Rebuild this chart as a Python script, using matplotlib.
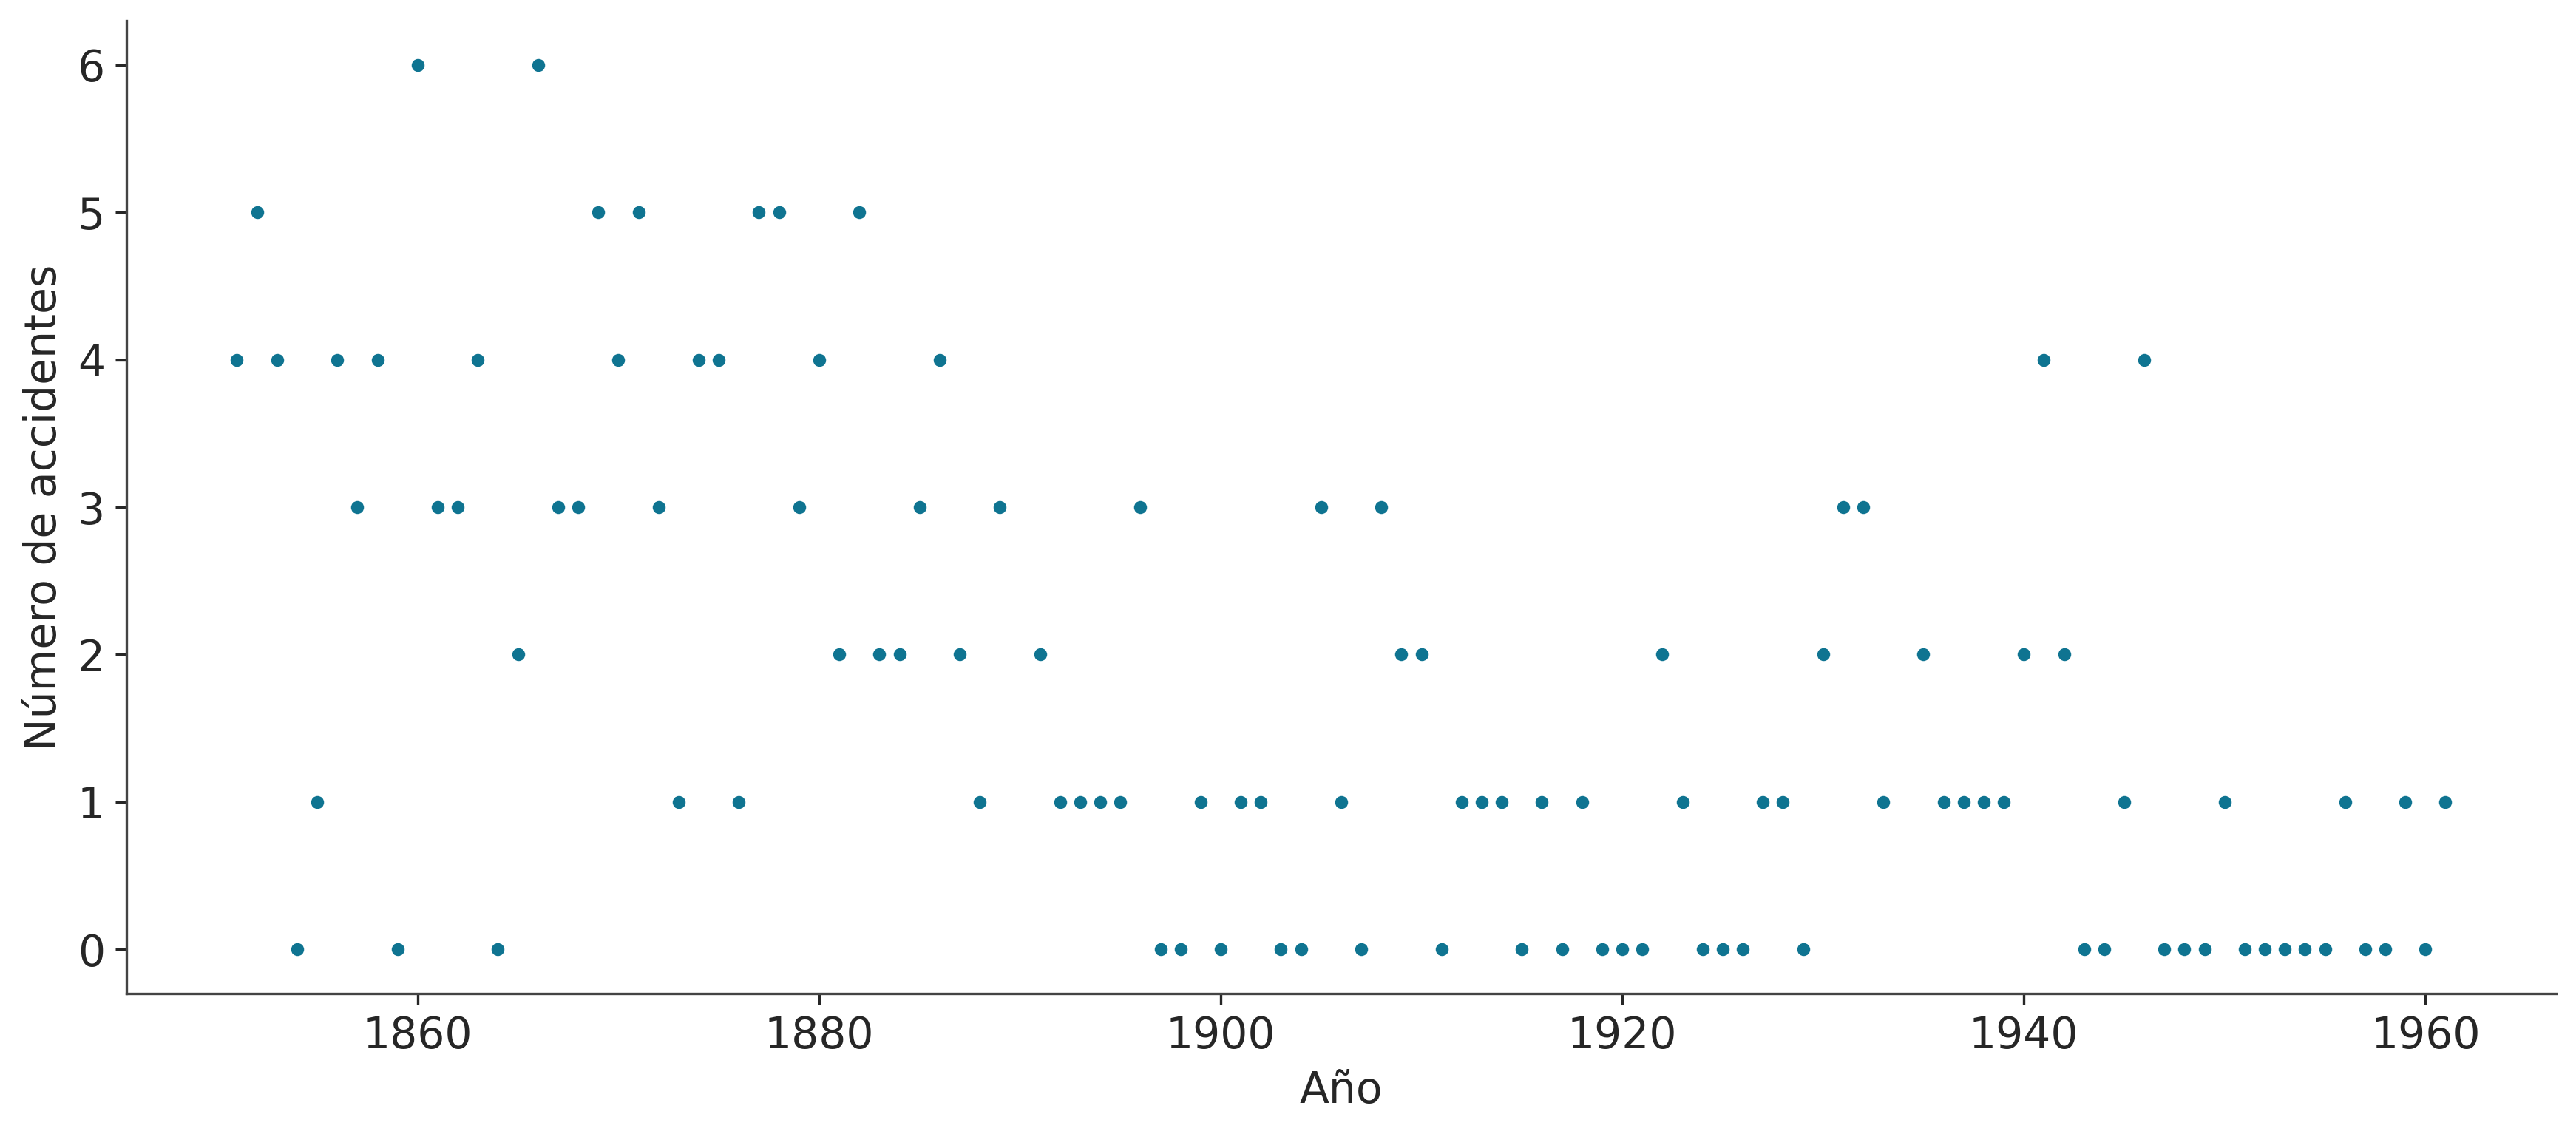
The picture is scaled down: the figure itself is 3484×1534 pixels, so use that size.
import matplotlib
matplotlib.use("Agg")
import matplotlib.pyplot as plt
import numpy as np
import seaborn as sns

sns.set_style("ticks")
plt.rcParams['font.family'] = ['DejaVu Sans']

# coal mining disasters per year (nan = missing year)
years = np.arange(1851, 1962)
counts = np.array([
    4, 5, 4, 0, 1, 4, 3, 4, 0, 6,      # 1851-1860
    3, 3, 4, 0, 2, 6, 3, 3, 5, 4,      # 1861-1870
    5, 3, 1, 4, 4, 1, 5, 5, 3, 4,      # 1871-1880
    2, 5, 2, 2, 3, 4, 2, 1, 3, np.nan, # 1881-1890
    2, 1, 1, 1, 1, 3, 0, 0, 1, 0,      # 1891-1900
    1, 1, 0, 0, 3, 1, 0, 3, 2, 2,      # 1901-1910
    0, 1, 1, 1, 0, 1, 0, 1, 0, 0,      # 1911-1920
    0, 2, 1, 0, 0, 0, 1, 1, 0, 2,      # 1921-1930
    3, 3, 1, np.nan, 2, 1, 1, 1, 1, 2, # 1931-1940
    4, 2, 0, 0, 1, 4, 0, 0, 0, 1,      # 1941-1950
    0, 0, 0, 0, 0, 1, 0, 0, 1, 0,      # 1951-1960
    1,                                 # 1961
])

fig = plt.figure(figsize=(3484 / 300, 1534 / 300), dpi=300)
ax = fig.add_axes([0.0491, 0.1239, 0.9431, 0.8578])

ax.plot(years, counts, 'o', markersize=4.2, markeredgewidth=0, color='#0f7491')

ax.set_xlabel('Año', fontsize=14)
ax.set_ylabel('Número de accidentes', fontsize=14)
ax.tick_params(labelsize=14)
for s in ax.spines.values():
    s.set_color('#444444')
sns.despine(ax=ax)

fig.savefig('out.png', dpi=300)
